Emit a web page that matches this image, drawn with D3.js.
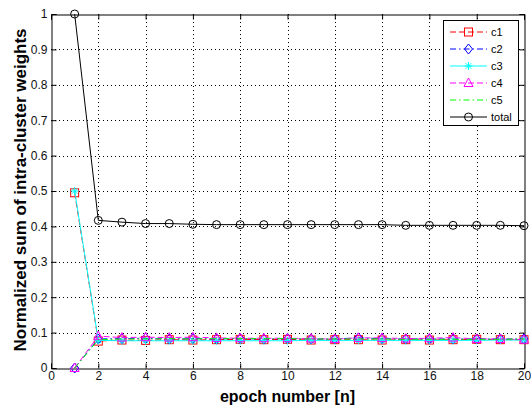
<!DOCTYPE html>
<html>
<head>
<meta charset="utf-8">
<script src="https://cdn.jsdelivr.net/npm/d3@7"></script>
<style>
body{margin:0;background:#fff}
svg{display:block;font-family:"Liberation Sans",Arial,sans-serif}
</style>
</head>
<body>
<svg width="531" height="409"></svg>
<script>
// ===== DATA =====
const epochs = d3.range(1,21)
const c1 = [0.495,0.076,0.079,0.078,0.080,0.079,0.080,0.081,0.080,0.081,0.079,0.080,0.080,0.079,0.080,0.079,0.080,0.081,0.080,0.080]
const c2 = [0.000,0.082,0.083,0.084,0.082,0.083,0.082,0.083,0.082,0.083,0.082,0.082,0.085,0.083,0.082,0.082,0.082,0.082,0.082,0.082]
const c3 = [0.500,0.078,0.077,0.077,0.077,0.077,0.077,0.077,0.077,0.077,0.078,0.078,0.078,0.078,0.078,0.078,0.078,0.078,0.079,0.079]
const c4 = [0.000,0.090,0.086,0.087,0.086,0.087,0.085,0.084,0.084,0.084,0.083,0.082,0.085,0.085,0.083,0.084,0.086,0.082,0.082,0.080]
const c5 = [0.000,0.080,0.082,0.082,0.083,0.082,0.083,0.083,0.083,0.083,0.082,0.082,0.082,0.082,0.081,0.081,0.081,0.081,0.081,0.082]
const total = [1.000,0.417,0.412,0.408,0.408,0.406,0.405,0.405,0.405,0.405,0.405,0.405,0.405,0.405,0.403,0.403,0.403,0.403,0.403,0.402]
const xTicks = d3.range(0,21,2)
const yTicks = d3.range(0,11).map(i=>i/10)

const series = [
  {name:"c1", values:c1, color:"#ff0000", dash:"6,3", marker:"square"},
  {name:"c2", values:c2, color:"#0000ff", dash:"6,3,1.5,3", marker:"diamond"},
  {name:"c3", values:c3, color:"#00ffff", dash:null, marker:"star"},
  {name:"c4", values:c4, color:"#ff00ff", dash:"6,3", marker:"triangle"},
  {name:"c5", values:c5, color:"#00ff00", dash:"6,3,1.5,3", marker:"none"},
  {name:"total", values:total, color:"#000000", dash:null, marker:"circle"}
]

// ===== LAYOUT =====
const svg = d3.select("svg")
const L = 51, R = 524, T = 14, B = 368

const x = d3.scaleLinear().domain([0,20]).range([L,R])
const y = d3.scaleLinear().domain([0,1]).range([B,T])

// GRID
const grid = svg.append("g")
.attr("stroke","#000").attr("stroke-width",1).attr("stroke-dasharray","1,3")

grid.selectAll(".gx").data(xTicks.slice(1,-1)).enter().append("line")
.attr("x1",d=>Math.round(x(d))+0.5).attr("x2",d=>Math.round(x(d))+0.5)
.attr("y1",T).attr("y2",B)

grid.selectAll(".gy").data(yTicks.slice(1,-1)).enter().append("line")
.attr("y1",d=>Math.round(y(d))+0.5).attr("y2",d=>Math.round(y(d))+0.5)
.attr("x1",L).attr("x2",R)

// AXES (MATLAB box, inward ticks)
const tick = 5
const axB = svg.append("g").attr("transform",`translate(0,${B+0.5})`)
.call(d3.axisBottom(x).tickValues(xTicks).tickSize(-tick).tickPadding(3).tickFormat(d3.format("d")))
const axT = svg.append("g").attr("transform",`translate(0,${T+0.5})`)
.call(d3.axisTop(x).tickValues(xTicks).tickSize(-tick).tickFormat(""))
const axL = svg.append("g").attr("transform",`translate(${L+0.5},0)`)
.call(d3.axisLeft(y).tickValues(yTicks).tickSize(-tick).tickPadding(4).tickFormat(d=>d===0||d===1?d3.format("d")(d):d3.format(".1f")(d)))
const axR = svg.append("g").attr("transform",`translate(${R+0.5},0)`)
.call(d3.axisRight(y).tickValues(yTicks).tickSize(-tick).tickFormat(""))

;[axB,axT,axL,axR].forEach(a=>{
  a.select(".domain").attr("stroke","#000")
  a.selectAll(".tick line").attr("stroke","#000")
  a.selectAll("text").attr("fill","#111").style("font-size","12px").style("font-family","'Liberation Sans',Arial,sans-serif")
})

// LABELS
svg.append("text")
.attr("x",(L+R)/2).attr("y",402)
.attr("text-anchor","middle")
.style("font-size","16px").style("font-weight","bold")
.text("epoch number [n]")

svg.append("text")
.attr("transform","rotate(-90)")
.attr("x",-190).attr("y",26)
.attr("text-anchor","middle")
.style("font-size","17px").style("font-weight","bold")
.text("Normalized sum of intra-cluster weights")

// MARKERS
function drawMarker(g,type,cx,cy,color){
  const s = 4
  if(type==="square"){
    g.append("rect").attr("x",cx-s).attr("y",cy-s).attr("width",2*s).attr("height",2*s)
    .attr("fill","none").attr("stroke",color)
  }else if(type==="diamond"){
    g.append("path").attr("d",`M${cx},${cy-s-1}L${cx+s},${cy}L${cx},${cy+s+1}L${cx-s},${cy}Z`)
    .attr("fill","none").attr("stroke",color)
  }else if(type==="triangle"){
    g.append("path").attr("d",`M${cx},${cy-s-1}L${cx+s+0.5},${cy+s-0.5}L${cx-s-0.5},${cy+s-0.5}Z`)
    .attr("fill","none").attr("stroke",color)
  }else if(type==="circle"){
    g.append("circle").attr("cx",cx).attr("cy",cy).attr("r",s)
    .attr("fill","none").attr("stroke",color)
  }else if(type==="star"){
    g.append("path").attr("d",
      `M${cx-s},${cy}L${cx+s},${cy}M${cx},${cy-s}L${cx},${cy+s}`+
      `M${cx-s*0.7},${cy-s*0.7}L${cx+s*0.7},${cy+s*0.7}M${cx-s*0.7},${cy+s*0.7}L${cx+s*0.7},${cy-s*0.7}`)
    .attr("fill","none").attr("stroke",color)
  }
}

// LINES
const line = d3.line().x((d,i)=>x(epochs[i])).y(d=>y(d))

series.forEach(s=>{
  const g = svg.append("g")
  g.append("path")
  .datum(s.values)
  .attr("fill","none")
  .attr("stroke",s.color)
  .attr("stroke-width",1)
  .attr("stroke-dasharray",s.dash)
  .attr("d",line)
  s.values.forEach((v,i)=>drawMarker(g,s.marker,x(epochs[i]),y(v),s.color))
})

// LEGEND
const lg = svg.append("g")
lg.append("rect").attr("x",443.5).attr("y",20.5).attr("width",75).attr("height",105)
.attr("fill","#fff").attr("stroke","#000")

series.forEach((s,i)=>{
  const ly = 32 + i*17
  lg.append("line").attr("x1",450).attr("x2",487).attr("y1",ly).attr("y2",ly)
  .attr("stroke",s.color).attr("stroke-dasharray",s.dash)
  drawMarker(lg,s.marker,468.5,ly,s.color)
  lg.append("text").attr("x",491).attr("y",ly+4)
  .style("font-size","11px").attr("fill","#000")
  .text(s.name)
})
</script>
</body>
</html>
